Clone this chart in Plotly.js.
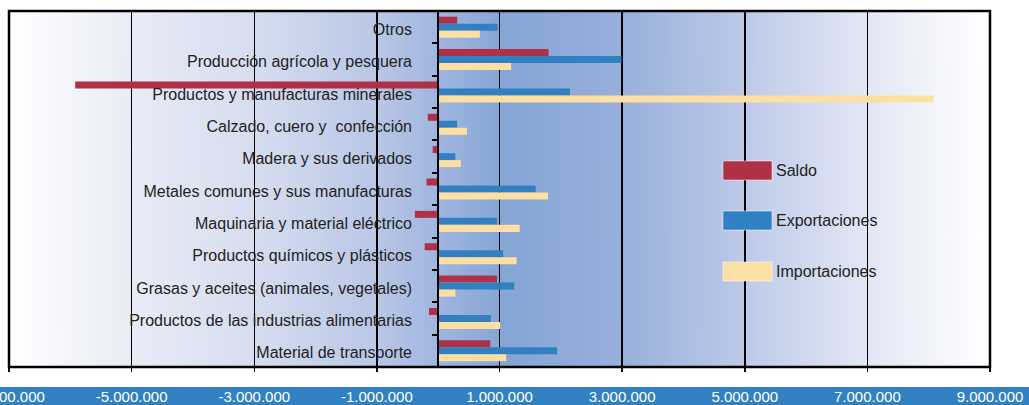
<!DOCTYPE html>
<html><head><meta charset="utf-8">
<script src="https://cdn.plot.ly/plotly-3.0.1.min.js"></script>
<style>html,body{margin:0;padding:0;background:#fff;}#chart{width:1029px;height:405px;}</style>
</head><body><div id="chart"></div>
<script>
const categories = [
  'Otros',
  'Producción agrícola y pesquera',
  'Productos y manufacturas minerales',
  'Calzado, cuero y\u00a0 confección',
  'Madera y sus derivados',
  'Metales comunes y sus manufacturas',
  'Maquinaria y material eléctrico',
  'Productos químicos y plásticos',
  'Grasas y aceites (animales, vegetales)',
  'Productos de las industrias alimentarias',
  'Material de transporte'
];
const saldo =         [310000, 1800000, -5920000, -170000, -90000, -190000, -380000, -220000, 960000, -150000, 850000];
const exportaciones = [970000, 2990000,  2150000,  310000, 280000, 1590000,  960000, 1060000, 1240000, 860000, 1940000];
const importaciones = [680000, 1190000,  8080000,  470000, 370000, 1790000, 1330000, 1280000,  280000, 1010000, 1110000];
const tickValues = [-7000000, -5000000, -3000000, -1000000, 1000000, 3000000, 5000000, 7000000, 9000000];
const tickLabels = ['-7.000.000', '-5.000.000', '-3.000.000', '-1.000.000', '1.000.000', '3.000.000', '5.000.000', '7.000.000', '9.000.000'];
const seriesNames = ['Saldo', 'Exportaciones', 'Importaciones'];
const seriesValues = [saldo, exportaciones, importaciones];
const seriesColors = ['#b03147', '#3181c2', '#fddfa4'];

const FONT = 'Liberation Sans, Arial, sans-serif';

function gradientImage() {
  const c = document.createElement('canvas');
  c.width = 981; c.height = 4;
  const g = c.getContext('2d');
  const gr = g.createLinearGradient(0, 0, 981, 0);
  const stops = [
    [0.0, '#ffffff'], [0.123, '#e9ecf6'], [0.25, '#d6ddef'], [0.376, '#b9c7e6'],
    [0.438, '#a0b5df'], [0.505, '#85a5d5'], [0.62, '#97afdb'], [0.70, '#aebfe2'],
    [0.75, '#bdcae8'], [0.80, '#cdd6ee'], [0.875, '#e2e7f4'], [0.94, '#f2f4fa'], [1.0, '#ffffff']
  ];
  stops.forEach(s => gr.addColorStop(s[0], s[1]));
  g.fillStyle = gr; g.fillRect(0, 0, 981, 4);
  return c.toDataURL('image/png');
}

const traces = seriesNames.map((name, i) => ({
  type: 'bar', orientation: 'h', name: name,
  y: categories, x: seriesValues[i],
  marker: {color: seriesColors[i], line: {width: 0}},
  showlegend: false, hoverinfo: 'x+y'
}));

const legendTop = [161, 211, 262];
const shapes = [
  {type: 'rect', xref: 'paper', yref: 'paper', xsizemode: 'pixel', ysizemode: 'pixel',
   xanchor: 0, yanchor: 0, x0: -9, x1: 1030, y0: -20, y1: -40,
   fillcolor: '#3181c2', line: {width: 0}, layer: 'below'},
  {type: 'rect', xref: 'paper', yref: 'paper', x0: 0, x1: 1, y0: 0, y1: 1,
   line: {color: '#000', width: 2.5}, fillcolor: 'rgba(0,0,0,0)', layer: 'above'}
];
const annotations = [];
seriesNames.forEach((name, i) => {
  const top = legendTop[i];
  shapes.push({type: 'rect', xref: 'paper', yref: 'paper',
    x0: (723 - 9) / 981, x1: (772 - 9) / 981,
    y0: (367 - top) / 356, y1: (367 - top - 19) / 356,
    fillcolor: seriesColors[i], line: {color: 'rgba(255,255,255,0.5)', width: 1}, layer: 'above'});
  annotations.push({xref: 'paper', yref: 'paper', x: (774 - 9) / 981, y: (367 - top - 9.5) / 356,
    xanchor: 'left', yanchor: 'middle', text: name, showarrow: false,
    font: {family: FONT, size: 16, color: '#222'}});
});

const layout = {
  width: 1029, height: 405,
  margin: {l: 9, r: 39, t: 11, b: 38, pad: 0},
  paper_bgcolor: '#ffffff', plot_bgcolor: '#ffffff',
  barmode: 'group', bargap: 0.35, bargroupgap: 0,
  showlegend: false,
  xaxis: {
    range: [-7000000, 9000000], tickmode: 'array', tickvals: tickValues, ticktext: tickLabels,
    showgrid: true, gridcolor: '#000', gridwidth: 1.5, zeroline: false,
    showline: false, ticks: 'outside', ticklen: 4, tickwidth: 1.5, tickcolor: '#000',
    ticklabelstandoff: 12, ticklabeloverflow: 'allow',
    tickfont: {family: FONT, size: 15, color: '#ffffff'}, fixedrange: true
  },
  yaxis: {
    type: 'category', autorange: 'reversed', anchor: 'free', position: 7 / 16,
    showline: true, linecolor: '#000', linewidth: 2,
    ticks: 'outside', tickson: 'boundaries', ticklen: 5, tickwidth: 2, tickcolor: '#000',
    showgrid: false, zeroline: false, ticklabelstandoff: 22, ticklabelshift: -2,
    tickfont: {family: FONT, size: 16, color: '#222'}, fixedrange: true
  },
  images: [{source: gradientImage(), xref: 'paper', yref: 'paper', x: 0, y: 1,
    sizex: 1, sizey: 1, sizing: 'stretch', xanchor: 'left', yanchor: 'top', layer: 'below'}],
  shapes: shapes,
  annotations: annotations
};

Plotly.newPlot('chart', traces, layout, {displayModeBar: false, staticPlot: true});
</script></body></html>
